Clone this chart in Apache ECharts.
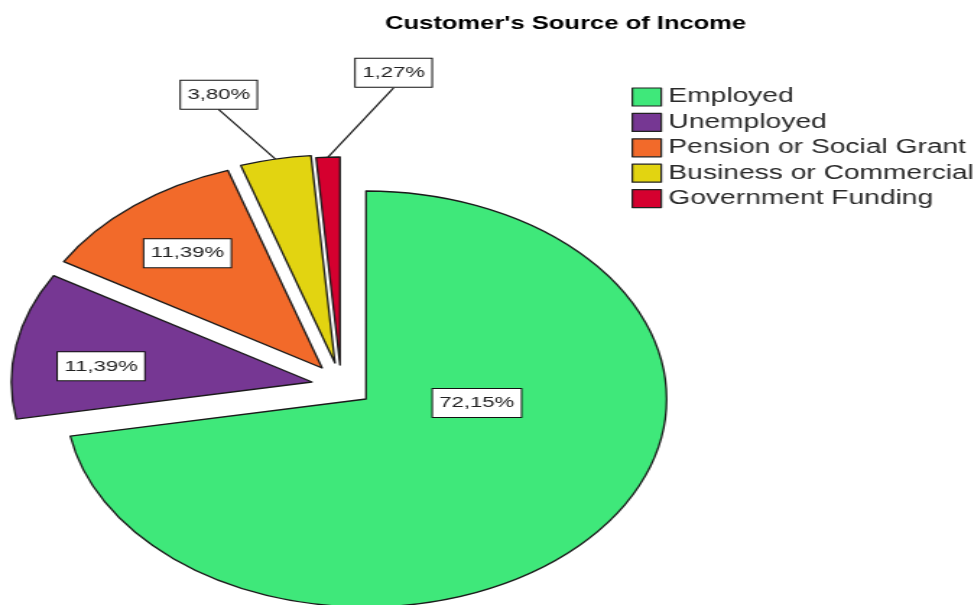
<!DOCTYPE html>
<html>
<head>
<meta charset="utf-8">
<script src="https://cdn.jsdelivr.net/npm/echarts@6/dist/echarts.min.js"></script>
<style>
  html, body { margin: 0; padding: 0; background: #ffffff; overflow: hidden; }
  /* The chart is drawn on a narrower canvas and widened horizontally,
     giving the oval pie and wide lettering of the printed figure. */
  #chart {
    width: 676px;
    height: 605px;
    transform: scaleX(1.445);
    transform-origin: 0 0;
  }
</style>
</head>
<body>
<div id="chart"></div>
<script>
// Income sources and their share of customers (%)
const categories = [
  'Employed',
  'Unemployed',
  'Pension or Social Grant',
  'Business or Commercial',
  'Government Funding'
];
const shares = [72.15, 11.39, 11.39, 3.80, 1.27];
const outsideLabel = [false, false, false, true, true];

// Styling
const sliceColors = ['#3FE87A', '#763793', '#F26A2A', '#E2D411', '#D5002F'];
// How far each slice is pulled away from the pie centre (px)
const explodeOffset = [[0, 0], [-37.4, -17], [-30.4, -31], [-21.5, -36], [-18, -34]];
const leaderLength = [0, 0, 0, 65, 84];
const labelShift = [[-4.4, -63.6], [-39.7, 4.4], [-25.2, -30.4], [0.8, 0.3], [75.9, 0.6]];

const FONT = 'Liberation Sans, Arial, sans-serif';
const PIE_CENTER = [253.3, 399];
const PIE_RADIUS = 208;
const fmt = v => v.toFixed(2).replace('.', ',') + '%';

const chart = echarts.init(document.getElementById('chart'), null, { renderer: 'canvas' });

// One pie per slice: the whole data set keeps the angles, only slice k is painted,
// and its centre is moved by that slice's offset.
function sliceSeries(k) {
  const outside = outsideLabel[k];
  return {
    type: 'pie',
    name: categories[k],
    center: [PIE_CENTER[0] + explodeOffset[k][0], PIE_CENTER[1] + explodeOffset[k][1]],
    radius: PIE_RADIUS,
    startAngle: 90,
    clockwise: true,
    avoidLabelOverlap: false,
    emphasis: { disabled: true },
    label: {
      formatter: p => fmt(p.value),
      fontFamily: FONT,
      fontSize: 15.3,
      lineHeight: 16,
      color: '#222222',
      backgroundColor: '#ffffff',
      borderColor: '#111111',
      borderWidth: 1,
      padding: [6, 4.5],
      distanceToLabelLine: 0
    },
    labelLine: { lineStyle: { color: '#1a1a1a', width: 1.2 } },
    labelLayout: function (p) {
      const s = labelShift[p.dataIndex];
      return {
        x: p.labelRect.x + s[0],
        y: p.labelRect.y + s[1],
        align: 'left',
        verticalAlign: 'top'
      };
    },
    data: categories.map((name, i) => {
      const own = i === k;
      return {
        name: name,
        value: shares[i],
        itemStyle: own
          ? { color: sliceColors[i], borderColor: '#1a1a1a', borderWidth: 1.3 }
          : { color: 'rgba(0,0,0,0)', borderWidth: 0 },
        label: { show: own, position: outside ? 'outside' : 'inside' },
        labelLine: own && outside
          ? { show: true, length: leaderLength[i], length2: 0 }
          : { show: false }
      };
    })
  };
}

chart.setOption({
  animation: false,
  backgroundColor: '#ffffff',
  title: {
    text: "Customer's Source of Income",
    left: 261.5,
    top: 10,
    textStyle: { fontFamily: FONT, fontWeight: 'bold', fontSize: 17.7, color: '#000000' }
  },
  legend: {
    orient: 'vertical',
    left: 432,
    top: 79,
    itemWidth: 20,
    itemHeight: 18,
    itemGap: -0.6,
    itemTextGap: 4,
    icon: 'rect',
    selectedMode: false,
    data: categories.map((name, i) => ({
      name: name,
      itemStyle: { color: sliceColors[i], borderColor: '#222222', borderWidth: 1.2 }
    })),
    textStyle: {
      fontFamily: FONT,
      fontSize: 19.5,
      lineHeight: 18,
      padding: [8, 0, 0, 0],
      color: '#2a2a2a'
    }
  },
  series: categories.map((_, k) => sliceSeries(k))
});
</script>
</body>
</html>
